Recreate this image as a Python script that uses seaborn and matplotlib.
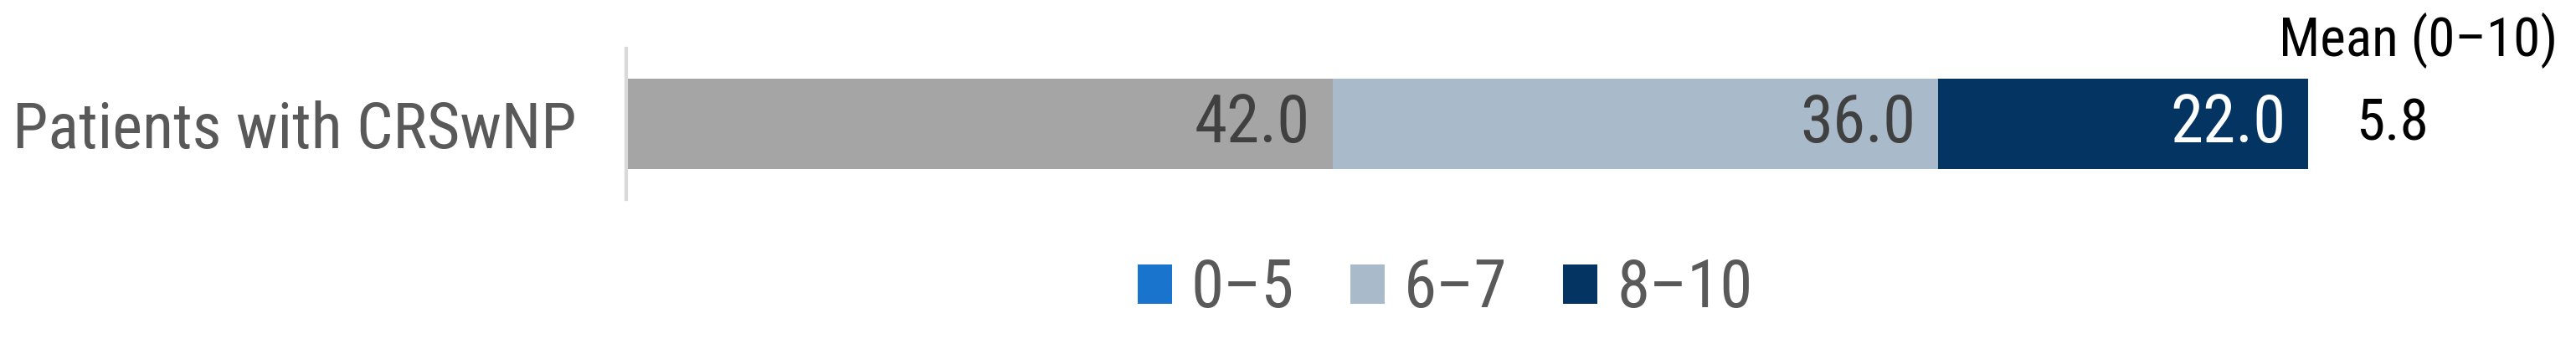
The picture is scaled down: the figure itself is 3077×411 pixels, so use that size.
import numpy as np
import pandas as pd
import seaborn as sns
import matplotlib.pyplot as plt
from matplotlib import font_manager
from matplotlib.patches import Patch

# data
groups = ["Patients with CRSwNP"]
segments = ["0–5", "6–7", "8–10"]
shares = [42.0, 36.0, 22.0]
mean_scores = [5.8]
mean_title = "Mean (0–10)"

bar_colors = ["#A5A5A5", "#A9BACB", "#043462"]
legend_colors = ["#1874CD", "#A9BACB", "#043462"]
label_colors = ["#404040", "#404040", "#FFFFFF"]

sns.set_style("white")

# the reference uses a condensed face; take the narrowest one installed
fonts = [(f.name, str(f.stretch)) for f in font_manager.fontManager.ttflist]
narrow = ("condensed", "semi-condensed", "extra-condensed", "ultra-condensed")
family, stretch = "Liberation Sans", "normal"
for name in ["Liberation Sans Narrow", "Roboto Condensed", "Open Sans Condensed"]:
    if any(n == name for n, s in fonts):
        family = name
        break
else:
    for name in ["Noto Sans", "Open Sans", "Roboto", "Lato", "Inter"]:
        hits = [s for n, s in fonts if n == name and s in narrow]
        if hits:
            family, stretch = name, hits[0]
            break
plt.rcParams['font.family'] = [family, 'DejaVu Sans']
plt.rcParams['font.stretch'] = stretch

df = pd.DataFrame({"group": groups * len(segments),
                   "segment": segments,
                   "share": shares})
df["cum"] = df.groupby("group")["share"].cumsum()

fig = plt.figure(figsize=(30.77, 4.11), dpi=100)
ax = fig.add_axes([0.2431, 0.4209, 0.6529, 0.438])

# fit the font size so the category label spans its width in the reference
probe = fig.text(0, 0, groups[0], fontsize=100)
probe_w = probe.get_window_extent(fig.canvas.get_renderer()).width
probe.remove()
fs = min(55, 100 * 674 / probe_w)
fs_val = fs * 57 / 55
fs_mean = fs * 50 / 55
fs_title = fs * 47 / 55

# stacked bar: draw cumulative totals from the longest down
for i in reversed(range(len(segments))):
    sub = df[df["segment"] == segments[i]]
    sns.barplot(data=sub, x="cum", y="group", orient="h", color=bar_colors[i],
                saturation=1, width=0.6, ax=ax, errorbar=None, linewidth=0)

for i, row in df.iterrows():
    ax.annotate(f"{row['share']:.1f}", xy=(row["cum"], 0), xytext=(-19, 0),
                textcoords="offset points", ha="right", va="center",
                fontsize=fs_val, color=label_colors[i])

total = df["cum"].max()
ax.annotate(f"{mean_scores[0]:.1f}", xy=(total, 0), xytext=(41, 0),
            textcoords="offset points", ha="left", va="center",
            fontsize=fs_mean, color="black")
ax.annotate(mean_title, xy=(total, 0), xytext=(-25, 58),
            textcoords="offset points", ha="left", va="baseline",
            fontsize=fs_title, color="black", annotation_clip=False)

ax.set_xlim(0, 100)
ax.set_ylim(0.5, -0.5)
ax.set_xlabel("")
ax.set_ylabel("")
ax.set_xticks([])
ax.set_yticks([0], labels=groups)
for lbl in ax.get_yticklabels():
    lbl.set_ha("left")
ax.tick_params(axis="y", length=0, pad=528, labelsize=fs, labelcolor="#595959")

for side in ["top", "right", "bottom"]:
    ax.spines[side].set_visible(False)
ax.spines["left"].set_color("#D9D9D9")
ax.spines["left"].set_linewidth(3)

# legend spacing given in pixels, converted to font-size units
em_px = fs_val * 100 / 72
handles = [Patch(facecolor=c, edgecolor="none") for c in legend_colors]
fig.legend(handles, segments, loc="center", bbox_to_anchor=(0.561, 0.16),
           ncol=3, frameon=False, fontsize=fs_val, labelcolor="#595959",
           handlelength=41 / em_px, handleheight=43 / em_px,
           handletextpad=23 / em_px, columnspacing=67 / em_px)

fig.savefig("out.png", dpi=100)
